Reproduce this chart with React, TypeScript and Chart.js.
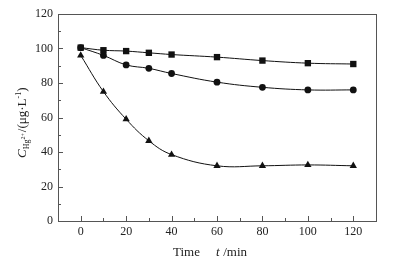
import React, { useEffect, useRef } from "react";
import { Chart, registerables } from "chart.js";

Chart.register(...registerables);

const times = [0, 10, 20, 30, 40, 60, 80, 100, 120];
const squareSeries = [100.5, 99, 98.5, 97.5, 96.5, 95, 93, 91.5, 91];
const circleSeries = [100.5, 96, 90.5, 88.5, 85.5, 80.5, 77.5, 76, 76];
const triangleSeries = [96, 75, 59, 46.5, 38.5, 32, 32, 32.5, 32];
const xTickLabels = [0, 20, 40, 60, 80, 100, 120];
const xMinorTicks = [10, 30, 50, 70, 90, 110];
const yTickLabels = [0, 20, 40, 60, 80, 100, 120];
const yMinorTicks = [10, 30, 50, 70, 90, 110];

const FONT = "'Liberation Serif', 'Times New Roman', serif";
const AXIS = "#555";

const framePlugin = {
  id: "frame",
  afterDraw(chart: any) {
    const { ctx, chartArea: a, scales } = chart;
    const xs = scales.x;
    const ys = scales.y;
    ctx.save();
    ctx.strokeStyle = AXIS;
    ctx.lineWidth = 1;
    ctx.strokeRect(a.left + 0.5, a.top + 0.5, a.right - a.left, a.bottom - a.top);
    ctx.beginPath();
    xTickLabels.forEach((v) => {
      const px = Math.round(xs.getPixelForValue(v)) + 0.5;
      ctx.moveTo(px, a.bottom);
      ctx.lineTo(px, a.bottom - 5);
    });
    xMinorTicks.forEach((v) => {
      const px = Math.round(xs.getPixelForValue(v)) + 0.5;
      ctx.moveTo(px, a.bottom);
      ctx.lineTo(px, a.bottom - 3);
    });
    yTickLabels.forEach((v) => {
      const py = Math.round(ys.getPixelForValue(v)) + 0.5;
      ctx.moveTo(a.left, py);
      ctx.lineTo(a.left + 5, py);
    });
    yMinorTicks.forEach((v) => {
      const py = Math.round(ys.getPixelForValue(v)) + 0.5;
      ctx.moveTo(a.left, py);
      ctx.lineTo(a.left + 3, py);
    });
    ctx.stroke();

    // x title
    ctx.fillStyle = "#222";
    ctx.textBaseline = "alphabetic";
    ctx.textAlign = "left";
    ctx.font = `13px ${FONT}`;
    ctx.fillText("Time", 173, 256);
    ctx.font = `italic 13px ${FONT}`;
    ctx.fillText("t", 216, 256);
    ctx.font = `13px ${FONT}`;
    ctx.fillText(" /min", 220, 256);

    // y title (rotated)
    ctx.translate(26, 158);
    ctx.rotate(-Math.PI / 2);
    let x = 0;
    ctx.font = `italic 13px ${FONT}`;
    ctx.fillText("C", x, 0);
    x += ctx.measureText("C").width;
    ctx.font = `8px ${FONT}`;
    ctx.fillText("Hg", x, 3);
    const hgW = ctx.measureText("Hg").width;
    ctx.font = `6px ${FONT}`;
    ctx.fillText("2+", x + hgW, -1);
    x += hgW + ctx.measureText("2+").width + 1;
    ctx.font = `13px ${FONT}`;
    ctx.fillText("/(μg·L", x, 0);
    x += ctx.measureText("/(μg·L").width;
    ctx.font = `8px ${FONT}`;
    ctx.fillText("-1", x, -5);
    x += ctx.measureText("-1").width;
    ctx.font = `13px ${FONT}`;
    ctx.fillText(")", x, 0);
    ctx.restore();
  },
};

export default function App() {
  const ref = useRef<HTMLCanvasElement | null>(null);
  useEffect(() => {
    document.body.style.margin = "0";
    const mk = (label: string, data: number[], style: any, radius: number) => ({
      label,
      data: times.map((t, i) => ({ x: t, y: data[i] })),
      borderColor: "#111",
      backgroundColor: "#111",
      borderWidth: 1,
      pointStyle: style,
      pointRadius: radius,
      pointBorderWidth: 0,
      tension: 0.4,
      showLine: true,
    });
    const chart = new Chart(ref.current!, {
      type: "line",
      data: {
        datasets: [
          mk("square", squareSeries, "rect", 4.5),
          mk("circle", circleSeries, "circle", 3.4),
          mk("triangle", triangleSeries, "triangle", 4.2),
        ],
      },
      plugins: [framePlugin],
      options: {
        animation: false,
        responsive: false,
        events: [],
        layout: { padding: { top: 14, right: 23, left: 0, bottom: 0 } },
        plugins: { legend: { display: false }, tooltip: { enabled: false } },
        scales: {
          x: {
            type: "linear",
            min: -10,
            max: 130,
            afterBuildTicks: (s: any) => {
              s.ticks = xTickLabels.map((v) => ({ value: v }));
            },
            afterFit: (s: any) => {
              s.height = 43;
            },
            grid: { display: false, drawTicks: false },
            border: { display: false },
            ticks: {
              padding: 4,
              color: "#222",
              font: { family: FONT, size: 12 },
              maxRotation: 0,
              autoSkip: false,
            },
          },
          y: {
            min: 0,
            max: 120,
            afterBuildTicks: (s: any) => {
              s.ticks = yTickLabels.map((v) => ({ value: v }));
            },
            afterFit: (s: any) => {
              s.width = 58;
            },
            grid: { display: false, drawTicks: false },
            border: { display: false },
            ticks: {
              padding: 5,
              color: "#222",
              font: { family: FONT, size: 12 },
            },
          },
        },
      },
    });
    return () => chart.destroy();
  }, []);
  return (
    <div style={{ width: 399, height: 264, background: "#fff" }}>
      <canvas ref={ref} width={399} height={264} style={{ display: "block" }} />
    </div>
  );
}
